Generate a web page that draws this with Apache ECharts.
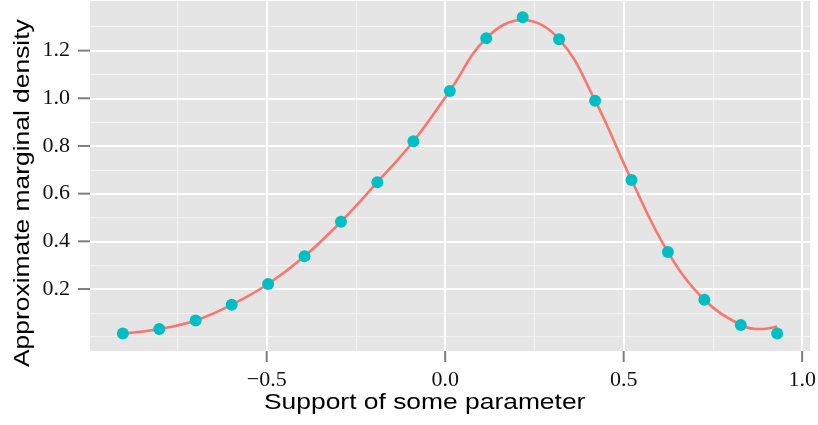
<!DOCTYPE html>
<html>
<head>
<meta charset="utf-8">
<script src="https://cdn.jsdelivr.net/npm/echarts@6/dist/echarts.min.js"></script>
<style>
html, body { margin: 0; padding: 0; background: #fff; }
#chart { width: 818px; height: 425px; }
</style>
</head>
<body>
<div id="chart"></div>
<script>
// points
var pointX = [-0.903, -0.801, -0.699, -0.598, -0.496, -0.394, -0.292, -0.190, -0.089, 0.013,
              0.115, 0.217, 0.319, 0.420, 0.522, 0.624, 0.726, 0.828, 0.930];
var pointY = [0.013, 0.032, 0.068, 0.134, 0.221, 0.337, 0.482, 0.648, 0.820, 1.031,
              1.252, 1.340, 1.248, 0.990, 0.657, 0.355, 0.155, 0.049, 0.013];

// smooth density curve
var curveX = [-0.903, -0.801, -0.699, -0.598, -0.496, -0.394, -0.292, -0.190, -0.089, 0.013,
              0.115, 0.217, 0.319, 0.420, 0.522, 0.624, 0.726, 0.828, 0.880, 0.930];
var curveY = [0.013, 0.032, 0.068, 0.134, 0.221, 0.337, 0.482, 0.648, 0.820, 1.031,
              1.252, 1.328, 1.248, 0.990, 0.657, 0.355, 0.155, 0.049, 0.032, 0.043];

// axis breaks
var xMajor = [-0.5, 0, 0.5, 1.0];
var xMinor = [-0.75, -0.25, 0.25, 0.75];
var yMajor = [0.2, 0.4, 0.6, 0.8, 1.0, 1.2];
var yMinor = [0, 0.1, 0.3, 0.5, 0.7, 0.9, 1.1, 1.3];

var xTitle = 'Support of some parameter';
var yTitle = 'Approximate marginal density';

var xMin = -0.995, xMax = 1.022;
var yMin = -0.060, yMax = 1.408;

var chart = echarts.init(document.getElementById('chart'));

function pairs(xs, ys) {
    return xs.map(function (x, i) { return [x, ys[i]]; });
}

// grid lines as mark lines on a helper series, under the data
var minorStyle = { color: '#F2F2F2', width: 1, type: 'solid' };
var majorStyle = { color: '#FFFFFF', width: 2, type: 'solid' };
var gridLines = [];
xMinor.forEach(function (v) { gridLines.push({ xAxis: v, lineStyle: minorStyle }); });
yMinor.forEach(function (v) { gridLines.push({ yAxis: v, lineStyle: minorStyle }); });
xMajor.forEach(function (v) { gridLines.push({ xAxis: v, lineStyle: majorStyle }); });
yMajor.forEach(function (v) { gridLines.push({ yAxis: v, lineStyle: majorStyle }); });

function fmt(v) {
    v = Number(v);
    return (v < 0 ? '\u2212' : '') + Math.abs(v).toFixed(1);
}

var labelFont = {
    fontFamily: 'Liberation Serif',
    fontSize: 22,
    color: '#111111'
};

var titleStyle = {
    font: '22px "Liberation Sans"',
    fill: '#000',
    align: 'left',
    verticalAlign: 'middle',
    textAlign: 'left',
    textVerticalAlign: 'middle'
};

var option = {
    animation: false,
    grid: {
        left: 90,
        right: 8,
        top: 1,
        bottom: 74,
        show: true,
        backgroundColor: '#E5E5E5',
        borderWidth: 0,
        outerBoundsMode: 'none'
    },
    xAxis: {
        type: 'value',
        min: xMin,
        max: xMax,
        axisLine: { show: false, onZero: false },
        splitLine: { show: false },
        axisTick: { show: false },
        axisLabel: Object.assign({
            customValues: xMajor,
            margin: 18,
            formatter: fmt
        }, labelFont)
    },
    yAxis: {
        type: 'value',
        min: yMin,
        max: yMax,
        axisLine: { show: false, onZero: false },
        splitLine: { show: false },
        axisTick: { show: false },
        axisLabel: Object.assign({
            customValues: yMajor,
            margin: 20,
            formatter: fmt
        }, labelFont)
    },
    series: [
        {
            name: 'grid',
            type: 'scatter',
            z: 1,
            silent: true,
            data: [],
            markLine: {
                z: 1,
                silent: true,
                animation: false,
                symbol: ['none', 'none'],
                label: { show: false },
                emphasis: { disabled: true },
                data: gridLines
            }
        },
        {
            name: 'curve',
            type: 'line',
            z: 3,
            smooth: 0.4,
            showSymbol: false,
            data: pairs(curveX, curveY),
            lineStyle: { color: '#F8766D', width: 2.6 }
        },
        {
            name: 'points',
            type: 'scatter',
            z: 4,
            symbolSize: 12,
            data: pairs(pointX, pointY),
            itemStyle: { color: '#00BFC4', opacity: 1 }
        }
    ]
};

chart.setOption(option);

// outward grey ticks, placed through the axes' own scales
var tickStyle = { stroke: '#7F7F7F', lineWidth: 2 };
var panelLeft = chart.convertToPixel({ xAxisIndex: 0 }, xMin);
var panelBottom = chart.convertToPixel({ yAxisIndex: 0 }, yMin);
var ticks = [];
xMajor.forEach(function (v) {
    var px = chart.convertToPixel({ xAxisIndex: 0 }, v);
    ticks.push({ type: 'line', silent: true, shape: { x1: px, y1: panelBottom, x2: px, y2: panelBottom + 11 }, style: tickStyle });
});
yMajor.forEach(function (v) {
    var py = chart.convertToPixel({ yAxisIndex: 0 }, v);
    ticks.push({ type: 'line', silent: true, shape: { x1: panelLeft - 12, y1: py, x2: panelLeft, y2: py }, style: tickStyle });
});

chart.setOption({
    graphic: ticks.concat([
        { type: 'text', x: 264, y: 403, scaleX: 1.2, silent: true,
          style: Object.assign({ text: xTitle }, titleStyle) },
        { type: 'text', x: 23, y: 367, scaleX: 1.2, rotation: Math.PI / 2, silent: true,
          style: Object.assign({ text: yTitle }, titleStyle) }
    ])
});
</script>
</body>
</html>
